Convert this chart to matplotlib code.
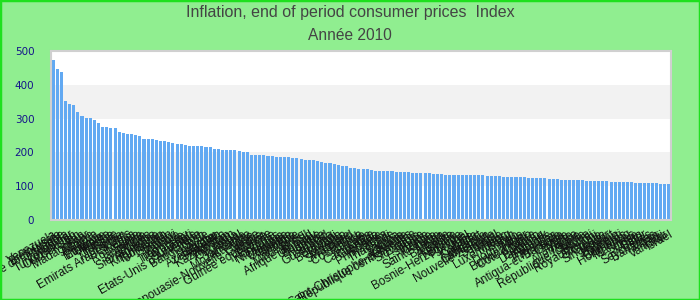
import matplotlib
matplotlib.use("Agg")
import matplotlib.pyplot as plt
from matplotlib.patches import Rectangle

title = "Inflation, end of period consumer prices  Index"
subtitle = "Année 2010"

countries = [
    "Venezuela", "Biélorussie", "République dominicaine", "Angola", "Myanmar",
    "Turkménistan", "Ouzbékistan", "Iran", "Madagascar", "Ghana",
    "Nigéria", "Éthiopie", "Moldavie", "Ukraine", "Russie",
    "Turquie", "Mongolie", "Yémen", "Emirats Arabes Unis", "Kenya",
    "Roumanie", "Serbie", "Jamaïque", "Guinée", "Sierra Leone",
    "Argentine", "Kirghizistan", "Tadjikistan", "Soudan", "Malawi",
    "Zambie", "Indonésie", "Paraguay", "Haïti", "Suriname",
    "Etats-Unis d'Amérique", "Bangladesh", "Syrie", "Égypte", "Pakistan",
    "Azerbaïdjan", "Sri Lanka", "Kazakhstan", "Viêt Nam", "Ouganda",
    "Népal", "Tanzanie", "Mozambique", "Inde", "Papouasie-Nouvelle-Guinée",
    "Gambie", "Bolivie", "Guinée équatoriale", "Lettonie", "Honduras",
    "Nicaragua", "Mexique", "Colombie", "Géorgie", "Arménie",
    "Macédoine", "Brésil", "Afrique du Sud", "Uruguay", "Bulgarie",
    "Hongrie", "Tchad", "Guatemala", "Burundi", "Botswana",
    "Lesotho", "Namibie", "Swaziland", "Pérou", "Costa Rica",
    "Islande", "Laos", "Cambodge", "Grenade", "Albanie",
    "Philippines", "Chili", "Thaïlande", "Samoa", "Estonie",
    "Lituanie", "Saint-Christophe-et-Niévès", "République centrafricaine", "Slovaquie", "Grèce",
    "Espagne", "Irlande", "Chine", "Sainte-Lucie", "Tonga",
    "Barbade", "Belize", "Australie", "Norvège", "Bosnie-Herzégovine",
    "Portugal", "Italie", "Canada", "Cap-Vert", "Malaisie",
    "Cameroun", "Nouvelle-Zélande", "Sénégal", "Tunisie", "Maroc",
    "Luxembourg", "Bénin", "Togo", "Dominique", "Niger",
    "Burkina Faso", "Côte d'Ivoire", "Gabon", "Belgique", "Danemark",
    "Autriche", "Pays-Bas", "Finlande", "Antigua-et-Barbuda", "Chypre",
    "Malte", "France", "Allemagne", "Suède", "République tchèque",
    "Brunei", "Royaume-Uni", "Slovénie", "Croatie", "Singapour",
    "Koweït", "Bahreïn", "Djibouti", "Comores", "Hong Kong",
    "Maldives", "Suisse", "Oman", "Qatar", "Seychelles",
    "Bahamas", "Japon", "Fidji", "Vanuatu", "Israël",
]

values = [
    472, 448, 437, 353, 344, 341, 321, 309, 303, 303,
    297, 288, 276, 276, 273, 273, 261, 258, 255, 255,
    252, 249, 240, 240, 240, 238,
    235, 235, 232, 229, 226, 226, 223, 220, 220, 220,
    220, 217, 217, 211, 211, 208, 208, 208, 208, 205,
    202, 202, 193, 193, 193, 193,
    190, 190, 187, 187, 187, 187, 184, 184, 181, 178,
    178, 178, 175, 172, 169, 169, 166, 163, 160, 160,
    154, 154, 151, 151, 151,
    149, 146, 146, 146, 146, 146, 143, 143, 143, 143,
    140, 140, 140, 140, 140, 137, 137, 137, 134, 134,
    134, 134, 134, 134, 134, 134,
    134, 134, 131, 131, 131, 131, 128, 128, 128, 128,
    128, 128, 125, 125, 125, 125, 125, 122, 122, 122,
    119, 119, 119, 119, 119,
    119, 116, 116, 116, 116, 116, 116, 113, 113, 113,
    113, 113, 113, 110, 110, 110, 110, 110, 110, 107,
    107, 107,
]

yticks = [0, 100, 200, 300, 400, 500]

BG = "#90ee90"
BAR = "#62a9f2"

fig = plt.figure(figsize=(7, 3), dpi=100, facecolor=BG)
ax = fig.add_axes([51 / 700, 80 / 300, 620 / 700, 169 / 300])
ax.set_facecolor("white")

n = len(values)
x = list(range(n))
ax.set_xlim(-0.5, n - 0.5)
ax.set_ylim(0, 500)

# alternating horizontal bands
for i in range(len(yticks) - 1):
    if i % 2 == 1:
        ax.axhspan(yticks[i], yticks[i + 1], color="#f2f2f2", zorder=0, lw=0)

ax.bar(x, values, width=0.74, color=BAR, zorder=2)

for s in ax.spines.values():
    s.set_color("#d0d0d0")
    s.set_linewidth(1.5)

ax.set_yticks(yticks)
ax.set_yticklabels([str(v) for v in yticks], color="#14148a",
                   fontsize=7.5, family="DejaVu Sans")
ax.tick_params(axis="y", length=0, pad=12)
ax.tick_params(axis="x", length=0, pad=6)
ax.set_xticks(x)
ax.set_xticklabels(countries, rotation=30, ha="right", va="top",
                   rotation_mode="anchor", fontsize=8.5, color="#111111",
                   family="Liberation Sans")

fig.text(0.5, 1 - 13 / 300, title, ha="center", va="center",
         fontsize=11.5, color="#444444", family="Liberation Sans")
fig.text(0.5, 1 - 36 / 300, subtitle, ha="center", va="center",
         fontsize=11.2, color="#444444", family="Liberation Sans")

fig.patches.append(Rectangle((0, 0), 1, 1, transform=fig.transFigure,
                             fill=False, edgecolor="#1ee01e", linewidth=2.5))

fig.savefig("out.png", dpi=100, facecolor=BG)
